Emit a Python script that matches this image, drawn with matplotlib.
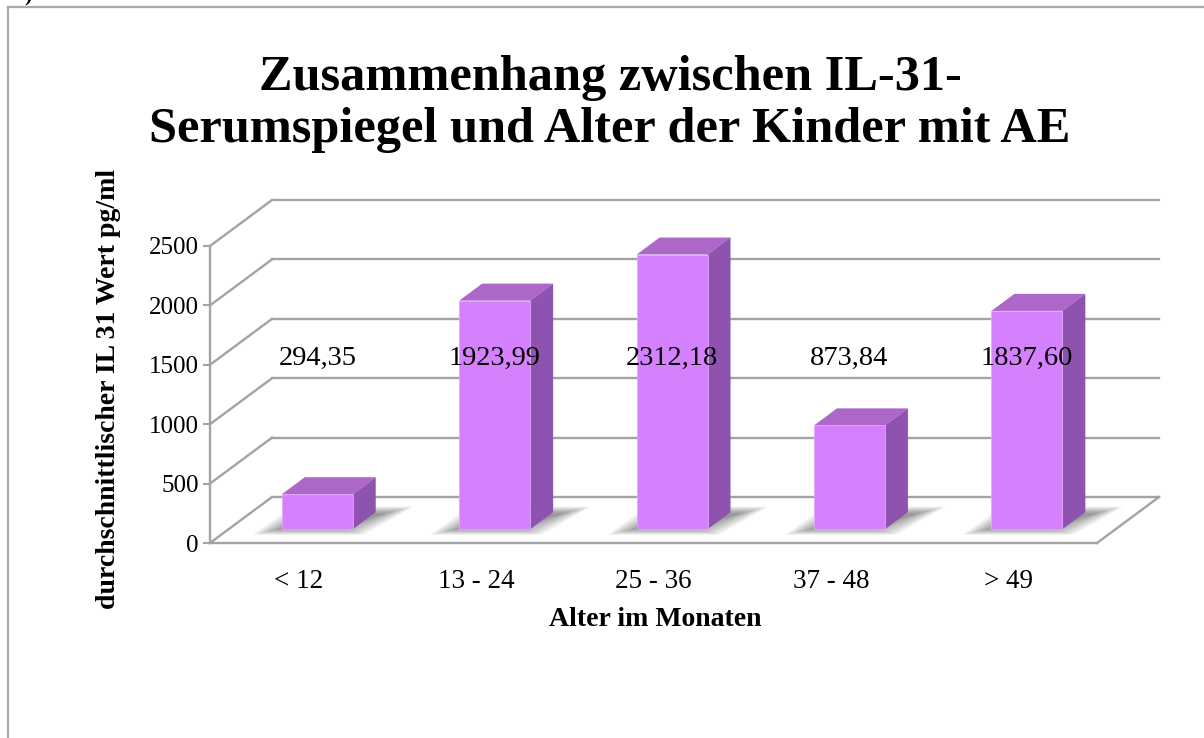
import matplotlib
matplotlib.use("Agg")
import matplotlib.pyplot as plt
from matplotlib.patches import Polygon
from matplotlib.lines import Line2D

categories = ["< 12", "13 - 24", "25 - 36", "37 - 48", "> 49"]
values = [294.35, 1923.99, 2312.18, 873.84, 1837.60]
value_labels = ["294,35", "1923,99", "2312,18", "873,84", "1837,60"]
y_ticks = [0, 500, 1000, 1500, 2000, 2500]

title = "Zusammenhang zwischen IL-31-\nSerumspiegel und Alter der Kinder mit AE"
x_label = "Alter im Monaten"
y_label = "durchschnittlischer IL 31 Wert pg/ml"

# oblique "3d" look: depth shift of the back wall in data units
DX = 0.3495
DY = 387.0
F0 = 0.30   # depth of bar front faces
BD = 0.37   # bar depth
BW = 0.40   # bar width

FRONT = "#D580FC"
TOP = "#AC67C8"
SIDE = "#8E52AF"
GRID = "#A3A3A3"

plt.rcParams["font.family"] = ["Liberation Serif", "DejaVu Serif"]

fig = plt.figure(figsize=(12.04, 7.38), dpi=100)
ax = fig.add_axes([210 / 1204, 195 / 738, 887 / 1204, 297 / 738])
x0, x1 = -0.5, len(categories) - 0.5
ax.set_xlim(x0, x1)
ax.set_ylim(0, 2500)

# back wall gridlines and left wall diagonals
for t in y_ticks:
    ax.plot([x0 + DX, x1 + DX], [t + DY, t + DY], color=GRID, lw=1.7,
            clip_on=False, zorder=1)
    ax.plot([x0, x0 + DX], [t, t + DY], color=GRID, lw=1.7,
            clip_on=False, zorder=1)
ax.plot([x1, x1 + DX], [0, DY], color=GRID, lw=1.7, clip_on=False, zorder=1)

# soft shadows on the floor (stacked translucent layers to fake a blur)
for i in range(len(values)):
    xl = i - BW / 2 + F0 * DX
    xr = xl + BW
    for k in range(8):
        s = 0.022 * k
        front_d = F0 - 0.12 + s * 0.9
        back_d = F0 + BD + 0.12 - s
        pts = [(xl - 0.16 + s, front_d * DY),
               (xr + 0.06 - s, front_d * DY),
               (xr + 0.34 - s, back_d * DY),
               (xl + 0.06 + s, back_d * DY)]
        ax.add_patch(Polygon(pts, closed=True, facecolor="#3A3A3A",
                             edgecolor="none", alpha=0.085, clip_on=False,
                             zorder=2))

# bars: front faces through ax.bar, top and side faces as polygons
xs = [i + F0 * DX for i in range(len(values))]
ax.bar(xs, values, width=BW, bottom=F0 * DY, color=FRONT,
       edgecolor="#E2A6FD", linewidth=0.6, zorder=4, clip_on=False)
for x, v in zip(xs, values):
    xl, xr = x - BW / 2, x + BW / 2
    yb, yt = F0 * DY, F0 * DY + v
    top = [(xl, yt), (xr, yt), (xr + BD * DX, yt + BD * DY),
           (xl + BD * DX, yt + BD * DY)]
    side = [(xr, yb), (xr + BD * DX, yb + BD * DY),
            (xr + BD * DX, yt + BD * DY), (xr, yt)]
    ax.add_patch(Polygon(top, closed=True, facecolor=TOP, edgecolor="none",
                         clip_on=False, zorder=3))
    ax.add_patch(Polygon(side, closed=True, facecolor=SIDE, edgecolor="none",
                         clip_on=False, zorder=3))

for x, lab in zip(xs, value_labels):
    ax.text(x, 1557, lab, ha="center", va="center", fontsize=20.5, zorder=6)

# axes styling
for side_name in ["top", "right"]:
    ax.spines[side_name].set_visible(False)
for side_name in ["left", "bottom"]:
    ax.spines[side_name].set_color(GRID)
    ax.spines[side_name].set_linewidth(1.7)
ax.set_facecolor("none")
ax.set_yticks(y_ticks)
ax.set_yticklabels([str(t) for t in y_ticks], fontsize=18)
ax.tick_params(axis="y", length=5, width=1.5, color=GRID, pad=3)
ax.set_xticks(range(len(categories)))
ax.set_xticklabels(categories, fontsize=19.5)
ax.tick_params(axis="x", length=0, pad=19)

ax.set_xlabel(x_label, fontsize=20, fontweight="bold")
ax.xaxis.set_label_coords(0.502, -0.215)
ax.set_ylabel(y_label, fontsize=20, fontweight="bold")
ax.yaxis.set_label_coords(-0.10, 0.518)

fig.text(610 / 1204, 1 - 104 / 738, title, ha="center", va="center",
         fontsize=36.3, fontweight="bold", linespacing=1.15)

# chart frame (cropped screenshot)
fig.add_artist(Line2D([8 / 1204, 8 / 1204], [0, 1 - 7 / 738],
                      transform=fig.transFigure, color="#ABABAB", lw=1.6))
fig.add_artist(Line2D([8 / 1204, 1], [1 - 7 / 738, 1 - 7 / 738],
                      transform=fig.transFigure, color="#ABABAB", lw=1.6))
fig.text(28 / 1204, 1 + 4 / 738, ")", fontsize=16, fontweight="bold",
         ha="center", va="center")

fig.savefig("out.png", dpi=100, facecolor="white")
